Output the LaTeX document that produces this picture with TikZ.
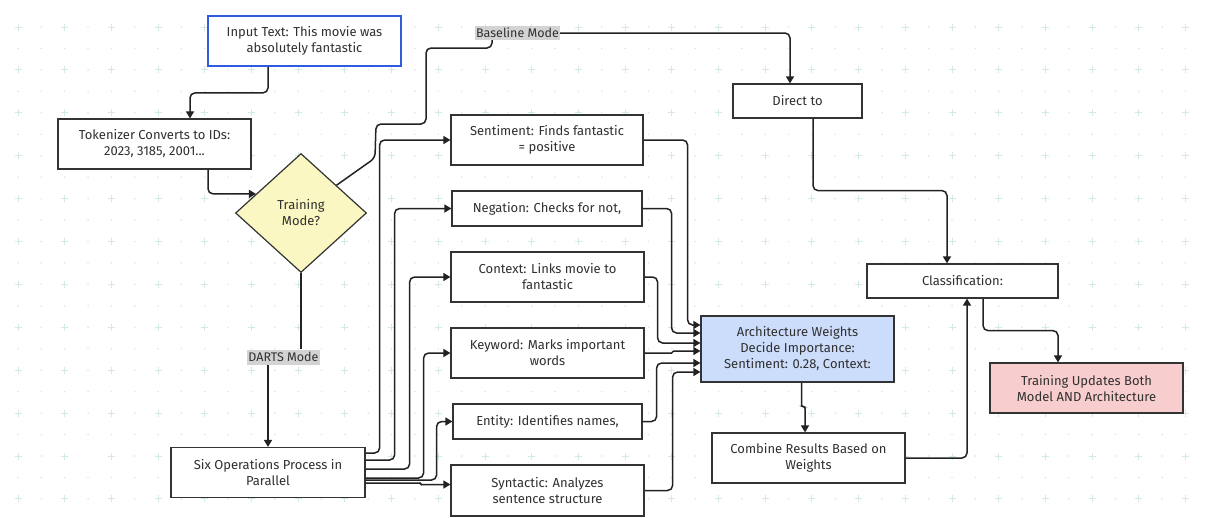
\documentclass[tikz,border=0pt]{standalone}
\usepackage{fontspec}
\setmainfont{Fira Sans}
\usetikzlibrary{shapes.geometric,arrows.meta}
\definecolor{txt}{HTML}{303030}
\definecolor{edge}{HTML}{222222}
\definecolor{bord}{HTML}{333333}
\definecolor{inblue}{HTML}{2F5BE0}
\definecolor{diafill}{HTML}{FBF7C2}
\definecolor{archfill}{HTML}{CCDCFB}
\definecolor{updfill}{HTML}{F8CDCD}
\definecolor{lblfill}{HTML}{D3D3D3}
\definecolor{plusc}{HTML}{D3EAE4}
\definecolor{dotc}{HTML}{E2E4E4}
\tikzset{
  box/.style={draw=bord,line width=1.2pt,fill=white,align=center,text=txt,
    inner sep=2pt,font=\fontsize{13}{16}\selectfont},
  dec/.style={diamond,draw=bord,line width=1.2pt,fill=diafill,align=center,text=txt,
    inner sep=0pt,aspect=1.1,minimum width=131pt,minimum height=119pt,
    font=\fontsize{13}{16}\selectfont},
  elabel/.style={fill=lblfill,text=txt,inner sep=1pt,font=\fontsize{12.5}{12}\selectfont},
  conn/.style={draw=edge,line width=1.5pt,rounded corners=5pt},
  arr/.style={conn,-{Triangle[length=7pt,width=8pt]}},
}
\begin{document}
\begin{tikzpicture}[x=1pt,y=-1pt]
\useasboundingbox (0,0) rectangle (1206,517);
\fill[white] (0,0) rectangle (1206,517);
% background grid
\foreach \i in {0,...,51}{
  \foreach \j in {0,...,23}{
    \pgfmathsetmacro{\px}{18+23.35*\i}
    \pgfmathsetmacro{\py}{27+21.45*\j}
    \pgfmathtruncatemacro{\pe}{(mod(\i,2)==0)&&(mod(\j,2)==0)}
    \ifnum\pe=1
      \draw[plusc,line width=1pt] (\px-3.5,\py) -- (\px+3.5,\py) (\px,\py-3.5) -- (\px,\py+3.5);
    \else
      \fill[dotc] (\px,\py) circle (0.9);
    \fi
  }
}
% nodes
\node[box,draw=inblue,line width=1.8pt,minimum width=193pt,minimum height=50pt] (inp) at (304.5,41) {Input Text: This movie was\\absolutely fantastic};
\node[box,minimum width=193pt,minimum height=50pt] (tok) at (154.5,144) {Tokenizer Converts to IDs:\\2023, 3185, 2001...};
\node[dec] (dia) at (301,213) {Training\\Mode?};
\node[box,minimum width=192pt,minimum height=50pt] (sen) at (547,140) {Sentiment: Finds fantastic\\= positive};
\node[box,minimum width=190pt,minimum height=35pt] (neg) at (547,208.5) {Negation: Checks for not,};
\node[box,minimum width=193pt,minimum height=50pt] (ctx) at (547.5,277) {Context: Links movie to\\fantastic};
\node[box,minimum width=193pt,minimum height=50pt] (key) at (547.5,353) {Keyword: Marks important\\words};
\node[box,minimum width=189pt,minimum height=35pt] (ent) at (547.5,421.5) {Entity: Identifies names,};
\node[box,minimum width=193pt,minimum height=51pt] (syn) at (547.5,490.5) {Syntactic: Analyzes\\sentence structure};
\node[box,minimum width=194pt,minimum height=50pt] (six) at (268,472.5) {Six Operations Process in\\Parallel};
\node[box,minimum width=129pt,minimum height=34pt] (dir) at (797.5,101) {Direct to};
\node[box,minimum width=191pt,minimum height=34pt] (cls) at (962.5,281) {Classification:};
\node[box,fill=archfill,minimum width=193pt,minimum height=66pt] (arch) at (797.5,349) {Architecture Weights\\Decide Importance:\\Sentiment: 0.28, Context:};
\node[box,minimum width=193pt,minimum height=50pt] (comb) at (808.5,458) {Combine Results Based on\\Weights};
\node[box,fill=updfill,minimum width=193pt,minimum height=50pt] (upd) at (1086.5,388) {Training Updates Both\\Model AND Architecture};
% connectors
\draw[arr] ([xshift=-36.5]inp.south) -- ++(0,26) -| ([xshift=35.5]tok.north);
\draw[arr] ([xshift=53.5]tok.south) |- (dia.157);
% baseline branch
\node[elabel,minimum width=81pt,minimum height=14pt] (base) at (517.5,33) {Baseline Mode};
\draw[conn] (dia.38) -- (375,158) -- (376,124) -- (426,124) -- (426,48) -- (492,48) -- ([xshift=-25.5]base.south);
\draw[arr] (base.east) -| ([xshift=-7.5]dir.north);
% darts branch
\node[elabel,minimum width=69pt,minimum height=15pt] (darts) at (283.5,357) {DARTS Mode};
\draw[conn] (dia.south) -- (darts.north -| dia.south);
\draw[arr] (darts.south -| six.north) -- (six.north);
% six -> operations
\draw[arr] ([yshift=19.5]six.east) -- ++(14,0) |- (sen.west);
\draw[arr] ([yshift=12.5]six.east) -- ++(29,0) |- (neg.west);
\draw[arr] ([yshift=3.5]six.east) -- ++(44,0) |- (ctx.west);
\draw[arr] ([yshift=-5.5]six.east) -- ++(58,0) |- (key.west);
\draw[arr] ([yshift=-7.5]six.east) -- ++(71,0) |- (ent.west);
\draw[arr,rounded corners=1pt] ([yshift=-10.5]six.east) -- ++(55,0) |- ([yshift=6]syn.west);
% operations -> arch
\draw[arr] (sen.east) -- ++(44,0) |- ([yshift=24]arch.west);
\draw[arr] (neg.east) -- ++(29,0) |- ([yshift=16]arch.west);
\draw[arr] (ctx.east) -- ++(13,0) |- ([yshift=6]arch.west);
\draw[arr,rounded corners=1pt] (key.east) -- ++(28,0) |- ([yshift=-2]arch.west);
\draw[arr] (ent.east) -- ++(14,0) |- ([yshift=-14]arch.west);
\draw[arr] (syn.east) -- ++(28,0) |- ([yshift=-23]arch.west);
% right part
\draw[arr,rounded corners=2pt] ([xshift=4]arch.south) -- ++(0,24) -| ([xshift=-3.5]comb.north);
\draw[arr] (comb.east) -| ([xshift=4.5]cls.south);
\draw[arr] ([xshift=15.5]dir.south) -- ++(0,72) -| ([xshift=-15.5]cls.north);
\draw[arr] ([xshift=20.5]cls.south) -- ++(0,32) -| ([xshift=-28.5]upd.north);
\end{tikzpicture}
\end{document}
